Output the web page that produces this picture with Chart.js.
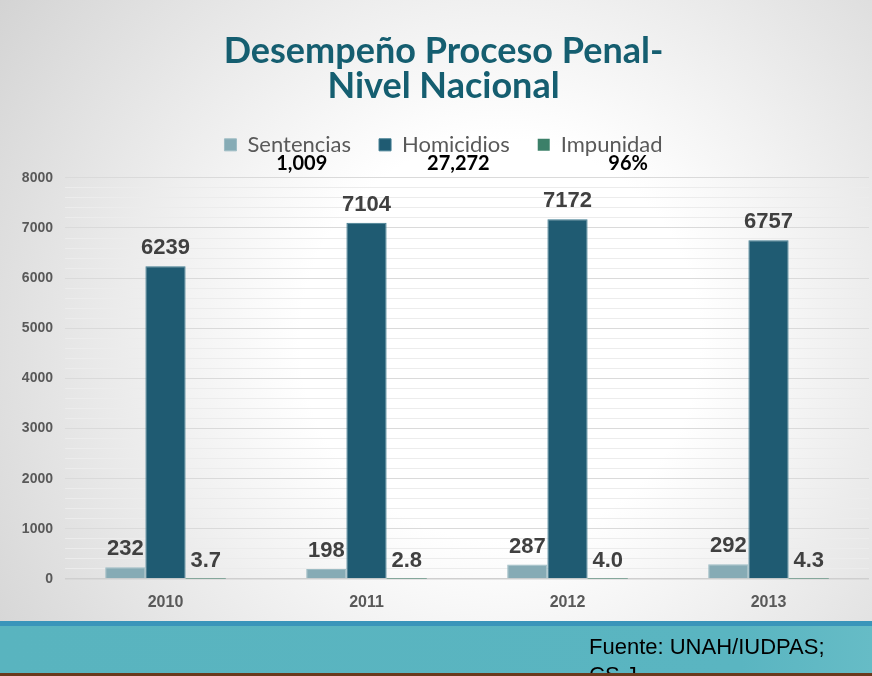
<!DOCTYPE html>
<html>
<head>
<meta charset="utf-8">
<script src="https://cdn.jsdelivr.net/npm/chart.js@4.4.1/dist/chart.umd.min.js"></script>
<style>
  html, body { margin: 0; padding: 0; background: #fff; }
  #wrap { width: 872px; height: 676px; }
</style>
</head>
<body>
<div id="wrap"><canvas id="penalChart" width="872" height="676"></canvas></div>
<script>
// datos
const years = ['2010', '2011', '2012', '2013'];
const sentencias = [232, 198, 287, 292];
const homicidios = [6239, 7104, 7172, 6757];
const impunidad = [3.7, 2.8, 4.0, 4.3];
const seriesNames = ['Sentencias', 'Homicidios', 'Impunidad'];
const seriesColors = ['#86abb5', '#1f5b72', '#3c8069'];
const yTicks = [0, 1000, 2000, 3000, 4000, 5000, 6000, 7000, 8000];

const sum = arr => arr.reduce((a, b) => a + b, 0);
const totalSent = sum(sentencias);
const totalHom = sum(homicidios);
const totals = [
  totalSent.toLocaleString('en-US'),
  totalHom.toLocaleString('en-US'),
  Math.round((1 - totalSent / totalHom) * 100) + '%'
];

// fondo de la diapositiva y franjas inferiores
const slideBg = {
  id: 'slideBg',
  beforeDraw(chart) {
    const c = chart.ctx;
    c.save();
    const g = c.createRadialGradient(500, 340, 200, 500, 340, 620);
    g.addColorStop(0, '#ffffff');
    g.addColorStop(1, '#d2d2d2');
    c.fillStyle = g;
    c.fillRect(0, 0, 872, 676);
    c.fillStyle = '#3a95ba';
    c.fillRect(0, 621, 872, 5);
    const t = c.createLinearGradient(0, 0, 872, 0);
    t.addColorStop(0, '#59b4bf');
    t.addColorStop(0.85, '#5ab5c1');
    t.addColorStop(1, '#66bcc6');
    c.fillStyle = t;
    c.fillRect(0, 626, 872, 47);
    c.restore();
  },
  afterDraw(chart) {
    const c = chart.ctx;
    c.save();
    c.fillStyle = '#000';
    c.font = '22px "Liberation Sans", Arial, sans-serif';
    c.textBaseline = 'alphabetic';
    c.fillText('Fuente: UNAH/IUDPAS;', 589, 654);
    c.fillText('CS J', 589, 682);
    c.fillStyle = '#6a391d';
    c.fillRect(0, 673, 872, 3);
    c.restore();
  }
};

// totales debajo de la leyenda
const legendTotals = {
  id: 'legendTotals',
  beforeInit(chart) {
    const origFit = chart.legend.fit;
    chart.legend.fit = function () {
      origFit.bind(chart.legend)();
      this.height = 72;
    };
  },
  afterDraw(chart) {
    const lg = chart.legend;
    if (!lg || !lg.legendHitBoxes) return;
    const c = chart.ctx;
    c.save();
    c.fillStyle = '#000';
    c.font = 'bold 20px Lato, sans-serif';
    c.textAlign = 'center';
    c.textBaseline = 'alphabetic';
    const shift = [4, 4, 18];
    lg.legendHitBoxes.forEach((hb, i) => {
      const bw = lg.options.labels.boxWidth + 8;
      const cx = hb.left + bw + (hb.width - bw) / 2;
      c.fillText(totals[i], cx + shift[i], 170);
    });
    c.restore();
  }
};

// etiquetas de valor sobre las barras
const barLabels = {
  id: 'barLabels',
  afterDatasetsDraw(chart) {
    const c = chart.ctx;
    c.save();
    c.fillStyle = '#404040';
    c.font = 'bold 22px "Liberation Sans", Arial, sans-serif';
    c.textAlign = 'center';
    c.textBaseline = 'alphabetic';
    chart.data.datasets.forEach((ds, di) => {
      chart.getDatasetMeta(di).data.forEach((el, i) => {
        const v = ds.data[i];
        const txt = di === 2 ? v.toFixed(1) : String(v);
        c.fillText(txt, el.x, el.y - 12);
      });
    });
    c.restore();
  }
};

const ctx = document.getElementById('penalChart').getContext('2d');
const penalChart = new Chart(ctx, {
  type: 'bar',
  data: {
    labels: years,
    datasets: [
      { label: seriesNames[0], data: sentencias, backgroundColor: seriesColors[0], borderColor: '#9dbcc4', borderWidth: 1 },
      { label: seriesNames[1], data: homicidios, backgroundColor: seriesColors[1], borderColor: '#3f7b90', borderWidth: 1 },
      { label: seriesNames[2], data: impunidad, backgroundColor: seriesColors[2], borderWidth: 0 }
    ]
  },
  options: {
    responsive: false,
    animation: false,
    layout: { padding: { left: 18, right: 3, top: 0, bottom: 65 } },
    datasets: { bar: { categoryPercentage: 0.6, barPercentage: 1.0 } },
    plugins: {
      title: {
        display: true,
        text: ['Desempeño Proceso Penal-', 'Nivel Nacional'],
        color: '#155e70',
        font: { family: 'Lato, sans-serif', size: 36, weight: 'bold', lineHeight: 0.97 },
        padding: { top: 34, bottom: 2 }
      },
      legend: {
        position: 'top',
        labels: {
          boxWidth: 12,
          boxHeight: 12,
          padding: 28,
          color: '#595959',
          font: { family: 'Lato, sans-serif', size: 22 }
        }
      },
      tooltip: { enabled: false }
    },
    scales: {
      x: {
        afterFit(scale) { scale.height = 32; },
        grid: { display: false, drawTicks: false },
        border: { display: false },
        ticks: {
          color: '#595959',
          padding: 14,
          font: { family: '"Liberation Sans", Arial, sans-serif', size: 16, weight: 'bold' }
        }
      },
      y: {
        min: yTicks[0],
        max: yTicks[yTicks.length - 1],
        afterFit(scale) { scale.width = 47; },
        border: { display: false },
        grid: {
          drawTicks: false,
          color: c => c.tick.value === 0 ? '#cfcfcf' : (c.tick.value % 1000 === 0 ? '#dadada' : '#ececec'),
          lineWidth: c => c.tick.value === 0 ? 1.5 : 1
        },
        ticks: {
          stepSize: 200,
          autoSkip: false,
          padding: 12,
          color: '#595959',
          font: { family: '"Liberation Sans", Arial, sans-serif', size: 14, weight: 'bold' },
          callback: v => yTicks.includes(v) ? String(v) : ''
        }
      }
    }
  },
  plugins: [slideBg, legendTotals, barLabels]
});
</script>
</body>
</html>
